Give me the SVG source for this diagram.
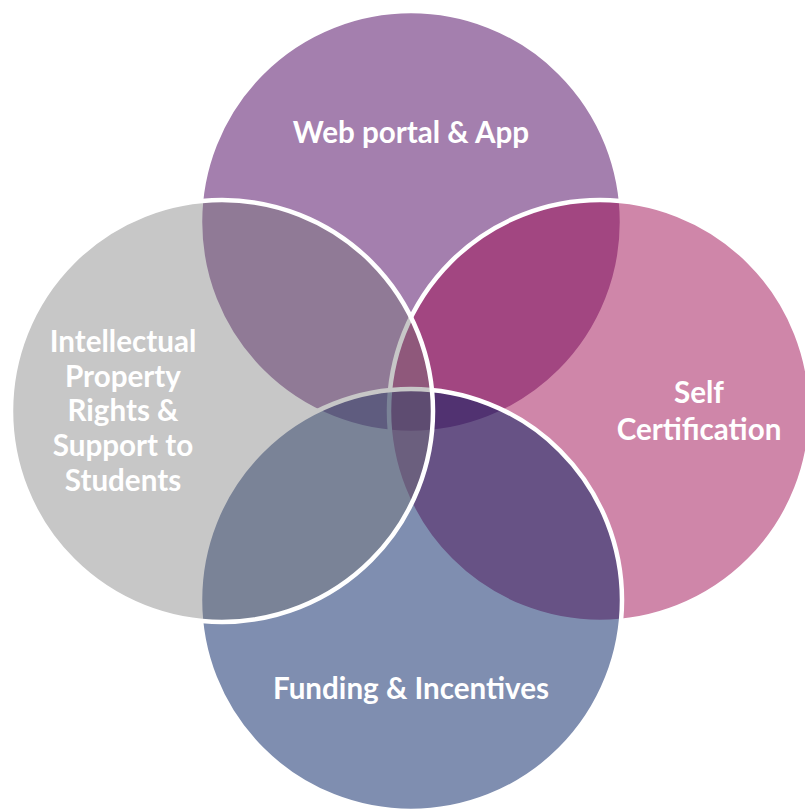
<svg xmlns="http://www.w3.org/2000/svg" width="805" height="810" viewBox="0 0 805 810">
  <style>
    .c { stroke: #ffffff; stroke-width: 4.5; }
    .t { font-family: Lato, "Open Sans", "Liberation Sans", sans-serif; font-weight: bold; font-size: 29.6px; fill: #ffffff; text-anchor: middle; }
  </style>
  <rect width="805" height="810" fill="#ffffff"/>
  <g id="web-portal">
    <circle class="c" cx="411" cy="222" r="211" fill="#A47FAE"/>
    <text class="t" x="411" y="143">Web portal &amp; App</text>
  </g>
  <g id="self-certification">
    <circle class="c" cx="600" cy="411" r="211" fill="#9F0D53" fill-opacity="0.5"/>
    <text class="t" x="699" y="403">Self</text>
    <text class="t" x="699" y="440">Certification</text>
  </g>
  <g id="funding">
    <circle class="c" cx="411" cy="600" r="211" fill="#001D61" fill-opacity="0.5"/>
    <text class="t" x="411" y="699">Funding &amp; Incentives</text>
  </g>
  <g id="ipr">
    <circle class="c" cx="222" cy="411" r="211" fill="#737373" fill-opacity="0.4"/>
    <text class="t" x="123" y="352">Intellectual</text>
    <text class="t" x="123" y="387">Property</text>
    <text class="t" x="123" y="421">Rights &amp;</text>
    <text class="t" x="123" y="456">Support to</text>
    <text class="t" x="123" y="491">Students</text>
  </g>
  <g id="connectors"/>
</svg>
